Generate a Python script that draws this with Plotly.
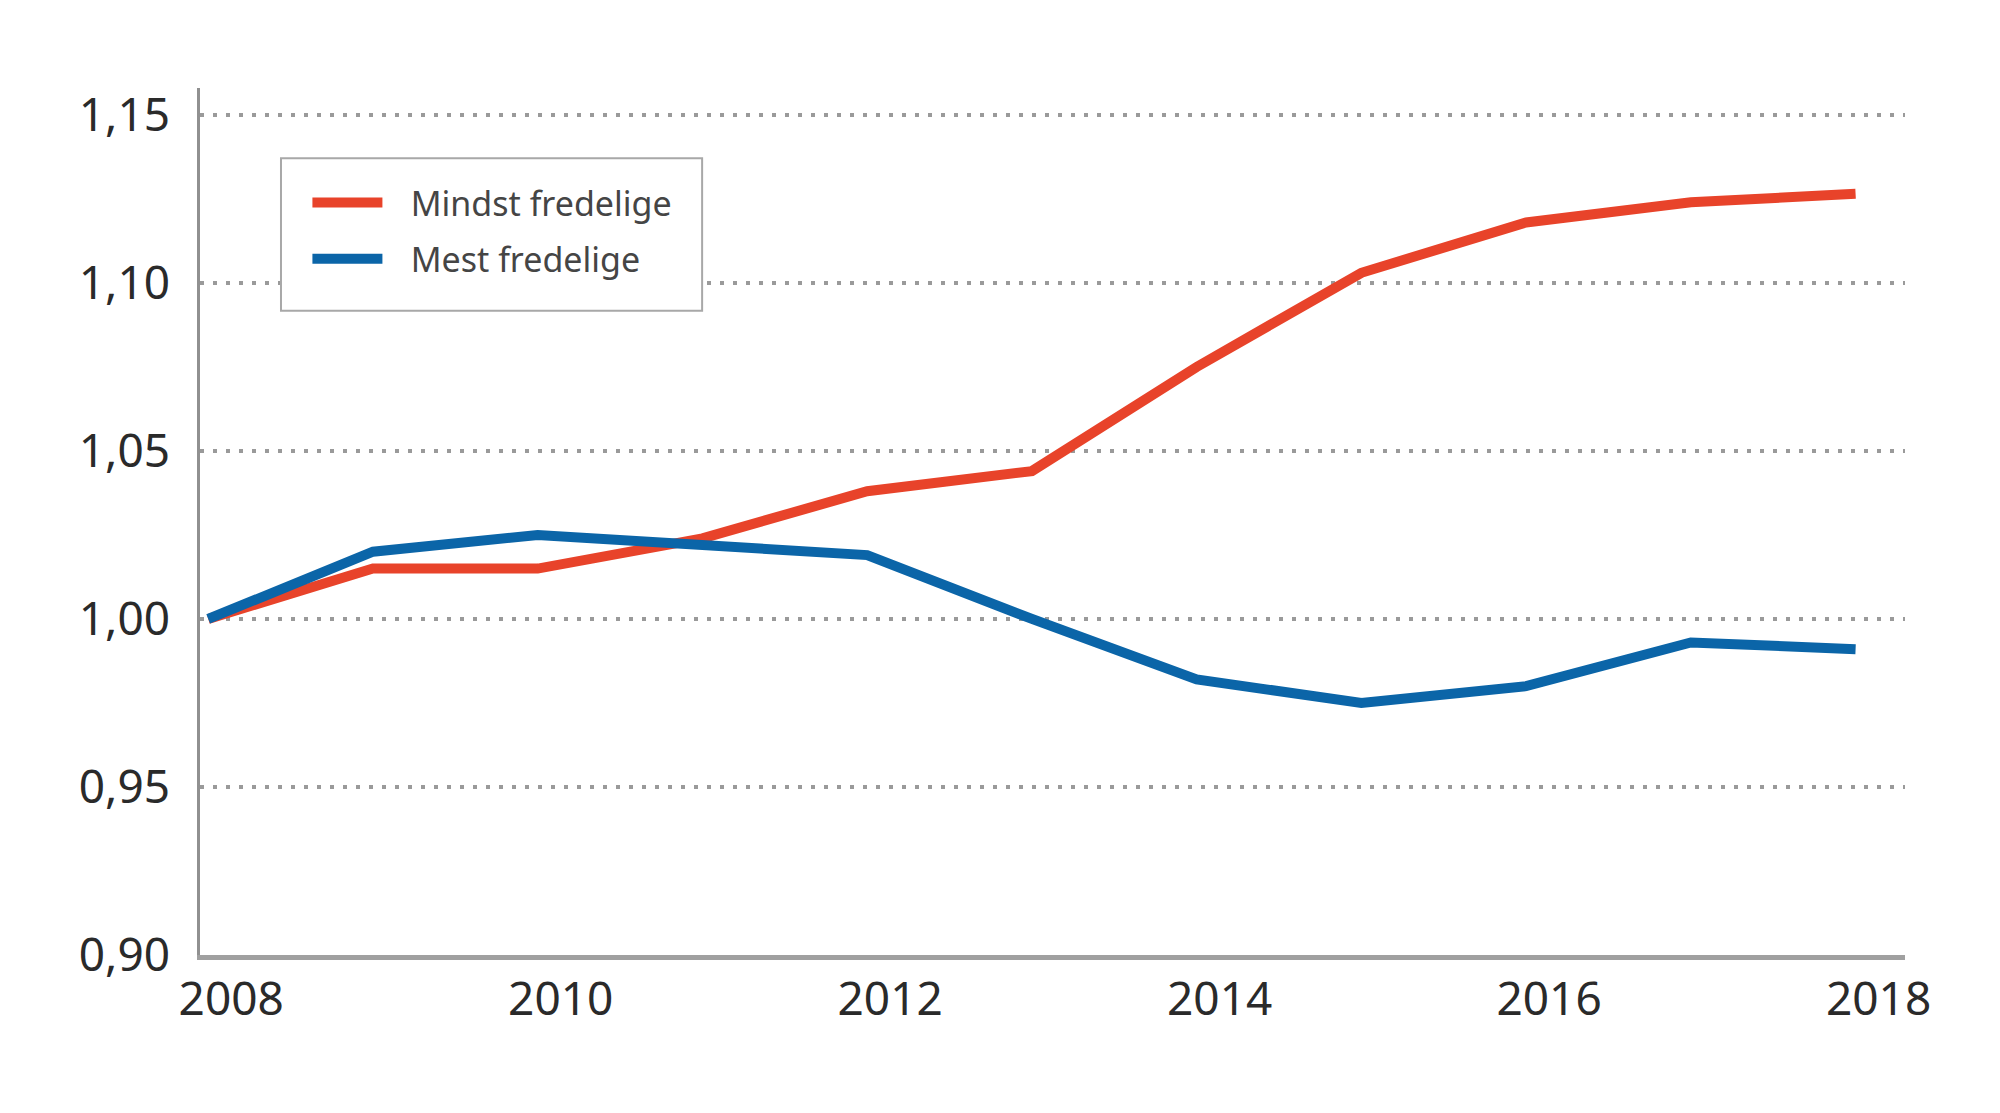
import plotly.graph_objects as go

# Index values (2008 = 1.00)
years = [2008, 2009, 2010, 2011, 2012, 2013, 2014, 2015, 2016, 2017, 2018]
mindst_fredelige = [1.000, 1.015, 1.015, 1.024, 1.038, 1.044, 1.075, 1.103, 1.118, 1.124, 1.1265]
mest_fredelige = [1.000, 1.020, 1.025, 1.022, 1.019, 1.000, 0.982, 0.975, 0.980, 0.993, 0.991]

y_ticks = [0.90, 0.95, 1.00, 1.05, 1.10, 1.15]
y_labels = ["0,90", "0,95", "1,00", "1,05", "1,10", "1,15"]
x_ticks = [2008, 2010, 2012, 2014, 2016, 2018]
x_labels = ["2008", "2010", "2012", "2014", "2016", "2018"]

RED = "#e8432a"
BLUE = "#0b65a8"
GAP = "\u00a0\u00a0\u2009"  # space between legend line and text

fig = go.Figure()
fig.add_trace(go.Scatter(
    x=years, y=mindst_fredelige, mode="lines", name=GAP + "Mindst fredelige",
    line=dict(color=RED, width=10), legendgroup="a"
))
fig.add_trace(go.Scatter(
    x=years, y=mest_fredelige, mode="lines", name=GAP + "Mest fredelige",
    line=dict(color=BLUE, width=10), legendgroup="b"
))

# legend frame drawn separately so it can have more padding than plotly gives
fig.add_shape(
    type="rect", xref="paper", yref="paper",
    x0=0.0475, x1=0.2945, y0=0.743, y1=0.919,
    line=dict(color="#a8a8a8", width=2), fillcolor="white", layer="above",
)

fig.update_layout(
    width=2000,
    height=1113,
    margin=dict(l=192, r=103, t=80, b=166),
    plot_bgcolor="white",
    paper_bgcolor="white",
    font=dict(family="Noto Sans", color="#2a2a2a"),
    legend=dict(
        x=0.063, y=0.901, xanchor="left", yanchor="top",
        bgcolor="rgba(0,0,0,0)", borderwidth=0,
        font=dict(size=34, color="#454545"),
        itemwidth=70, tracegroupgap=9, traceorder="grouped",
    ),
)

fig.update_xaxes(
    range=[2007.95, 2018.3],
    tickvals=x_ticks, ticktext=x_labels,
    tickfont=dict(size=46),
    ticks="", showgrid=False, zeroline=False,
    showline=True, linecolor="#a0a0a0", linewidth=5,
    ticklabelshift=23, ticklabelstandoff=0,
)
fig.update_yaxes(
    range=[0.90, 1.158],
    tickvals=y_ticks, ticktext=y_labels,
    tickfont=dict(size=46),
    ticks="", zeroline=False,
    showline=True, linecolor="#909090", linewidth=2.5,
    showgrid=True, gridcolor="#9a9a9a", gridwidth=3.5, griddash="4px,9px",
    ticklabelstandoff=18,
)

fig.write_html("out.html")
